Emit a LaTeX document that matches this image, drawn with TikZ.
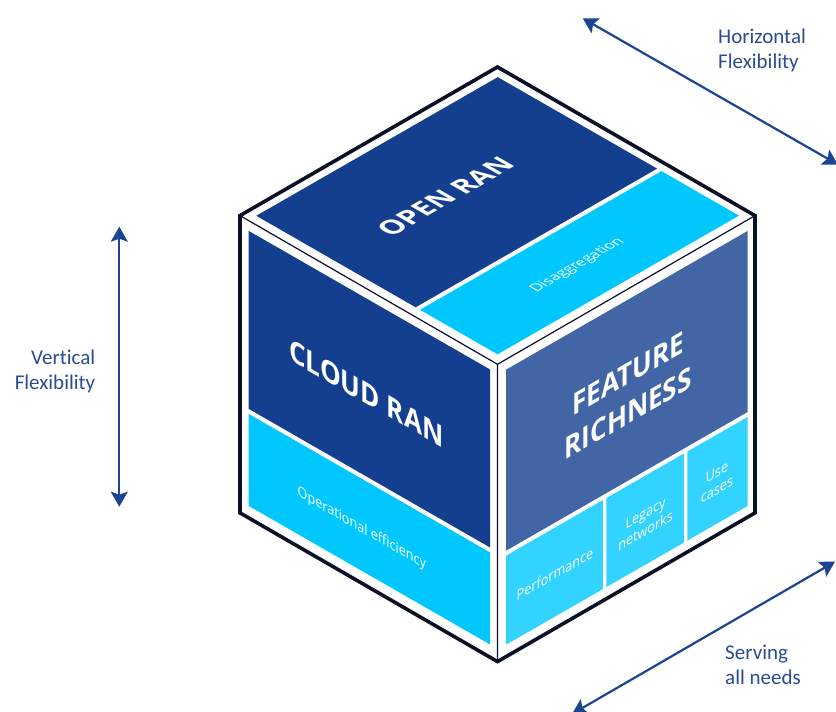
\documentclass[tikz,border=0pt]{standalone}
\usepackage{fontspec}
\setmainfont{Open Sans}
\newfontfamily\labelfont[Ligatures=NoCommon]{Carlito}
\usetikzlibrary{arrows.meta}

\definecolor{nokiablue}{HTML}{133F8E}
\definecolor{midblue}{HTML}{4165A5}
\definecolor{cyanstrip}{HTML}{00C8FF}
\definecolor{cyanbox}{HTML}{33D3FF}
\definecolor{arrowblue}{HTML}{1B4494}
\definecolor{labelblue}{HTML}{2A4B92}
\definecolor{edgeblack}{HTML}{0B1025}

\begin{document}
\begin{tikzpicture}[x=1pt,y=1pt,
  flexarrow/.style={arrowblue, line width=2.2pt,
    {Stealth[length=15pt,width=17pt,inset=3pt]}-{Stealth[length=15pt,width=17pt,inset=3pt]}},
  flexlabel/.style={text=labelblue, font=\labelfont\fontsize{21}{25}\selectfont, inner sep=0pt},
  cubetitle/.style={text=white, font=\bfseries\fontsize{30}{40}\selectfont, transform shape, align=center, inner sep=0pt},
  cubesmall/.style={text=white, font=\fontsize{14.5}{17.5}\selectfont, transform shape, align=center, inner sep=0pt},
  outeredge/.style={draw=edgeblack, line width=3.6pt, line join=miter},
  inneredge/.style={draw=edgeblack, line width=1.2pt}
]
\useasboundingbox (0,0) rectangle (836,712);

% cube corners
\coordinate (T)  at (497.5,645);
\coordinate (UL) at (240,496.4);
\coordinate (UR) at (755,496.4);
\coordinate (C)  at (497.5,347.7);
\coordinate (LL) at (240,199.1);
\coordinate (LR) at (755,199.1);
\coordinate (B)  at (497.5,50.4);

\fill[white] (T) -- (UR) -- (LR) -- (B) -- (LL) -- (UL) -- cycle;

% left face
\begin{scope}[cm={0.8708,-0.5,0,1,(240,199.1)}]
  \fill[nokiablue] (10,109) -- (287.3,109) -- (287.3,287) -- (10,287) -- cycle;
  \fill[cyanstrip] (10,12) -- (287.3,12) -- (287.3,104) -- (10,104) -- cycle;
  \node[cubetitle] (cloud) at (145,192) {CLOUD RAN};
  \node[cubesmall] (opeff) at (140,54) {Operational efficiency};
\end{scope}

% right face
\begin{scope}[cm={0.8708,0.5,0,1,(497.5,50.4)}]
  \fill[midblue] (10,106) -- (287.3,106) -- (287.3,287) -- (10,287) -- cycle;
  \fill[cyanbox] (10,12) -- (121,12) -- (121,101) -- (10,101) -- cycle;
  \fill[cyanbox] (125,12) -- (214,12) -- (214,101) -- (125,101) -- cycle;
  \fill[cyanbox] (218,12) -- (287.3,12) -- (287.3,101) -- (218,101) -- cycle;
  \node[cubetitle] (feature) at (150,193) {FEATURE\\RICHNESS};
  \node[cubesmall] (perf) at (66,55) {Performance};
  \node[cubesmall] (legacy) at (170,55) {Legacy\\networks};
  \node[cubesmall] (usecases) at (252,55) {Use\\cases};
\end{scope}

% top face
\begin{scope}[cm={0.8708,0.5,-0.8708,0.5,(497.5,347.7)}]
  \fill[nokiablue] (10,104) -- (287.3,104) -- (287.3,287) -- (10,287) -- cycle;
  \fill[cyanstrip] (10,10) -- (287.3,10) -- (287.3,99) -- (10,99) -- cycle;
  \node[cubetitle, font=\bfseries\fontsize{27.5}{34}\selectfont] (openran) at (138,198) {OPEN RAN};
  \node[cubesmall] (disagg) at (145,53) {Disaggregation};
\end{scope}

% edges
\draw[inneredge] (C) -- (UL) (C) -- (UR) (C) -- (B);
\draw[outeredge] (T) -- (UR) -- (LR) -- (B) -- (LL) -- (UL) -- cycle;

% arrows
\coordinate (vtop) at (119.3,485.3);
\coordinate (vbot) at (119.3,205.3);
\coordinate (htop) at (582.7,693.7);
\coordinate (hbot) at (838,547.4);
\coordinate (stop) at (835,150.3);
\coordinate (sbot) at (572,-2);
\draw[flexarrow] (vtop) -- (vbot);
\draw[flexarrow] (htop) -- (hbot);
\draw[flexarrow] (sbot) -- (stop);

% labels
\node[flexlabel, align=right, anchor=north east] (vlab) at (95.5,362) {Vertical\\Flexibility};
\node[flexlabel, align=left, anchor=north west] (hlab) at (718,683) {Horizontal\\Flexibility};
\node[flexlabel, align=left, anchor=north west] (slab) at (725,67) {Serving\\all needs};
\end{tikzpicture}
\end{document}
